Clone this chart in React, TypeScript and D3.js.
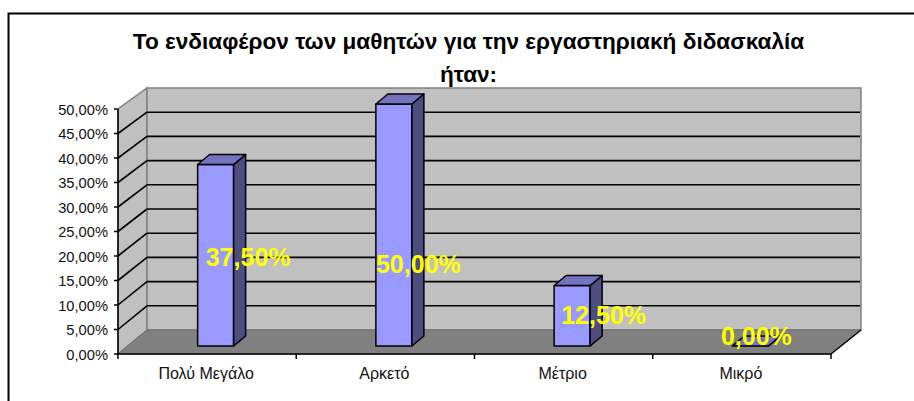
import React from 'react';
import * as d3 from 'd3';

const categories = ['Πολύ Μεγάλο', 'Αρκετό', 'Μέτριο', 'Μικρό'];
const values = [37.5, 50, 12.5, 0];
const valueLabels = ['37,50%', '50,00%', '12,50%', '0,00%'];
const ticks = [0, 5, 10, 15, 20, 25, 30, 35, 40, 45, 50];
const titleLines = ['Το ενδιαφέρον των μαθητών για την εργαστηριακή διδασκαλία', 'ήταν:'];

const font = '"Liberation Sans", Arial, sans-serif';

// front edge of the box and its back wall (the wall is a bit shorter than the axis)
const x = d3.scaleBand<string>().domain(categories).range([118, 831]);
const y = d3.scaleLinear().domain([0, 50]).range([354, 109]);
const yBack = d3.scaleLinear().domain([0, 50]).range([330, 88]);
const xBack0 = 147;
const xBack1 = 861;

const barW = 36;
const barBase = 346;
const barDepth = { x: 12, y: -10 };
// the data labels sit off the bars by hand in the original
const labelShift = [
  { x: 32.5, y: 10.5 },
  { x: 24.5, y: 48 },
  { x: 31.5, y: 8.5 },
  { x: 6, y: -1 },
];

const poly = (pts: [number, number][]) => d3.line()(pts)! + 'Z';

const App: React.FC = () => {
  const [x0, x1] = x.range();
  const barX = (c: string) => x(c)! + (x.bandwidth() - barW) / 2 + 8.5;

  return (
    <svg
      width={914}
      height={401}
      style={{ position: 'absolute', left: 0, top: 0, background: '#fff' }}
      fontFamily={font}
    >
      {/* frame: only top and left are inside the crop */}
      <path d="M8.5,401V13.5H914" fill="none" stroke="#000" strokeWidth={2} />

      {titleLines.map((t, i) => (
        <text key={i} x={468.5} y={49 + i * 33} textAnchor="middle" fontSize={22.6} fontWeight="bold">
          {t}
        </text>
      ))}

      {/* walls */}
      <path
        d={poly([[x0, y(0)], [x0, y(50)], [xBack0, yBack(50)], [xBack0, yBack(0)]])}
        fill="#c0c0c0"
        stroke="#808080"
        strokeWidth={1.5}
      />
      <rect
        x={xBack0}
        y={yBack(50)}
        width={xBack1 - xBack0}
        height={yBack(0) - yBack(50)}
        fill="#c0c0c0"
        stroke="#808080"
        strokeWidth={1.5}
      />
      <path
        d={poly([[x0, y(0)], [x1, y(0)], [xBack1, yBack(0)], [xBack0, yBack(0)]])}
        fill="#808080"
        stroke="#6e6e6e"
        strokeWidth={1}
      />

      {/* gridlines */}
      {ticks.filter((t) => t > 0 && t < 50).map((t) => (
        <g key={t} stroke="#000" strokeWidth={1.6} fill="none">
          <line x1={x0} y1={y(t)} x2={xBack0} y2={yBack(t)} />
          <line x1={xBack0} y1={yBack(t)} x2={xBack1 - 1} y2={yBack(t)} />
        </g>
      ))}

      {/* axes */}
      <g stroke="#000" strokeWidth={1.5}>
        <line x1={x0} y1={y(0) + 0.5} x2={x0} y2={y(50)} />
        <line x1={x0 - 1} y1={y(0)} x2={x1} y2={y(0)} />
        <line x1={x1} y1={y(0)} x2={xBack1} y2={yBack(0)} />
        {ticks.map((t) => (
          <line key={t} x1={x0 - 4} y1={y(t)} x2={x0} y2={y(t)} />
        ))}
        {[...categories.map((c) => x(c)!), x1].map((px) => (
          <line key={px} x1={px} y1={y(0)} x2={px} y2={y(0) + 5} />
        ))}
      </g>
      {ticks.map((t) => (
        <text key={t} x={108} y={y(t) + 5.5} textAnchor="end" fontSize={14.7} fill="#111">
          {d3.format('.2f')(t).replace('.', ',')}%
        </text>
      ))}
      {categories.map((c) => (
        <text key={c} x={x(c)! + x.bandwidth() / 2 - 1} y={379} textAnchor="middle" fontSize={16} fill="#111">
          {c}
        </text>
      ))}

      {/* bars */}
      {categories.map((c, i) => {
        const bx = barX(c);
        const top = barBase - (yBack(0) - yBack(values[i]));
        const d = barDepth;
        return (
          <g key={c} stroke="#000" strokeWidth={1.5} strokeLinejoin="round">
            <rect x={bx} y={top} width={barW} height={barBase - top} fill="#9999ff" />
            <path
              d={poly([[bx + barW, top], [bx + barW + d.x, top + d.y], [bx + barW + d.x, barBase + d.y], [bx + barW, barBase]])}
              fill="#4d4d80"
            />
            <path
              d={poly([[bx, top], [bx + d.x, top + d.y], [bx + barW + d.x, top + d.y], [bx + barW, top]])}
              fill="#7373c0"
            />
          </g>
        );
      })}

      {/* data labels */}
      {categories.map((c, i) => {
        const h = yBack(0) - yBack(values[i]);
        return (
          <text
            key={c}
            x={barX(c) + barW / 2 + labelShift[i].x}
            y={barBase - h / 2 + labelShift[i].y}
            textAnchor="middle"
            fontSize={25}
            fontWeight="bold"
            fill="#ffff00"
          >
            {valueLabels[i]}
          </text>
        );
      })}
    </svg>
  );
};

export default App;
